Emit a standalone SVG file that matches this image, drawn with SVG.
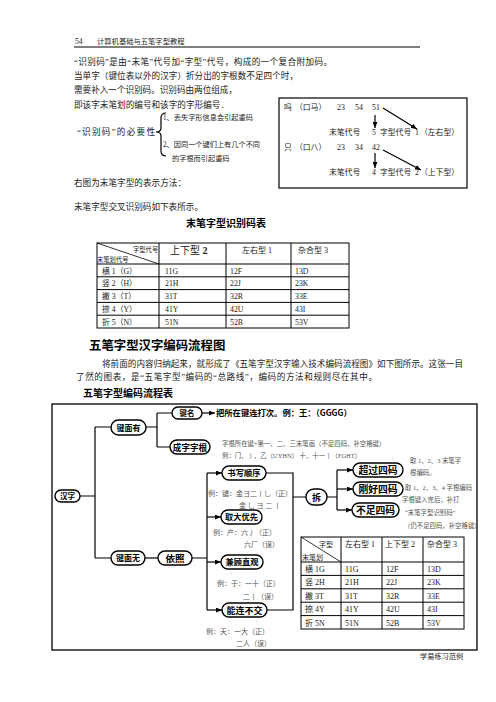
<svg xmlns="http://www.w3.org/2000/svg" width="496" height="702" viewBox="0 0 496 702">
<defs>
<marker id="ah" viewBox="0 0 10 8" refX="10" refY="4" markerWidth="6" markerHeight="5" orient="auto" markerUnits="userSpaceOnUse"><path d="M0,0 L10,4 L0,8 z" fill="#000"/></marker>
<style>
.t{font-family:"Liberation Serif","Noto Sans CJK SC",serif;fill:#222}
.b{font-size:8.6px}
.h{font-family:"Noto Sans CJK SC",sans-serif;font-weight:bold;fill:#000}
.s{font-size:7px;fill:#555}
.xs{font-size:6.4px;fill:#555}
.c{font-size:8px}
.node rect{fill:#fff;stroke:#000;stroke-width:1.4}
.nt{font-family:"Noto Sans CJK SC",sans-serif;font-weight:bold;text-anchor:middle;fill:#000}
.ln{stroke:#000;stroke-width:1.2;fill:none}
.tb{stroke:#000;stroke-width:1;fill:none}
</style>
</defs>
<rect width="496" height="702" fill="#fff"/>

<!-- header -->
<text class="t" x="75" y="44" font-size="7.5">54</text>
<text class="t" x="97" y="44" font-size="7.3">计算机基础与五笔字型教程</text>
<line x1="74" y1="47" x2="420" y2="47" stroke="#000" stroke-width="1"/>

<!-- paragraph -->
<text class="t b" x="74" y="65" textLength="258" lengthAdjust="spacing">“识别码”是由“末笔”代号加“字型”代号，构成的一个复合附加码。</text>
<text class="t b" x="74" y="79" textLength="224" lengthAdjust="spacing">当单字（键位表以外的汉字）折分出的字根数不足四个时，</text>
<text class="t b" x="74" y="93" textLength="163" lengthAdjust="spacing">需要补入一个识别码。识别码由两位组成，</text>
<text class="t b" x="74" y="108" textLength="155" lengthAdjust="spacing">即该字末笔划的编号和该字的字形编号．</text>
<text class="t b" x="77" y="135" textLength="78" lengthAdjust="spacing">“识别码”的必要性</text>
<path class="ln" d="M166,113 Q161,113 161,118 L161,128 Q161,132 156,132 Q161,132 161,136 L161,151 Q161,156 166,156" stroke-width="1"/>
<text class="t" x="163" y="119.5" font-size="7.2">1、丢失字形信息会引起重码</text>
<text class="t" x="163" y="146.5" font-size="7.2">2、因同一个键们上有几个不同</text>
<text class="t" x="172" y="160.5" font-size="7.2">的字根而引起重码</text>
<text class="t b" x="74" y="186" textLength="112" lengthAdjust="spacing">右图为末笔字型的表示方法：</text>
<text class="t b" x="74" y="210" textLength="129" lengthAdjust="spacing">末笔字型交叉识别码如下表所示。</text>

<!-- example box -->
<g id="example-box">
<rect x="279" y="98" width="188" height="90" fill="#fff" stroke="#000" stroke-width="1.2"/>
<g class="t" font-size="7.8">
<text x="284" y="110">吗</text><text x="295" y="110">（口马）</text>
<text x="337" y="110">23</text><text x="355" y="110">54</text><text x="372" y="110">51</text>
<text x="329" y="135">末笔代号</text><text x="372" y="135">5</text><text x="380" y="135">字型代号</text><text x="415" y="135">1</text><text x="420" y="135">（左右型）</text>
<text x="284" y="150">只</text><text x="295" y="150">（口八）</text>
<text x="337" y="150">23</text><text x="355" y="150">34</text><text x="372" y="150">42</text>
<text x="329" y="175">末笔代号</text><text x="372" y="175">4</text><text x="380" y="175">字型代号</text><text x="415" y="175">2</text><text x="420" y="175">（上下型）</text>
</g>
<g class="ln" marker-end="url(#ah)">
<line x1="375" y1="115" x2="375" y2="128"/>
<line x1="383" y1="108" x2="417" y2="129"/>
<line x1="375" y1="153" x2="375" y2="168"/>
<line x1="383" y1="150" x2="421" y2="170"/>
</g>
</g>

<!-- table 1 -->
<text class="h" x="186" y="227" font-size="10">末笔字型识别码表</text>
<g id="table1">
<g class="tb" stroke-width="1.1">
<rect x="97" y="243" width="252" height="85"/>
<line x1="97" y1="264" x2="349" y2="264"/>
<line x1="97" y1="276.8" x2="349" y2="276.8"/>
<line x1="97" y1="289.6" x2="349" y2="289.6"/>
<line x1="97" y1="302.4" x2="349" y2="302.4"/>
<line x1="97" y1="315.2" x2="349" y2="315.2"/>
<line x1="159" y1="243" x2="159" y2="328"/>
<line x1="226" y1="243" x2="226" y2="328"/>
<line x1="291" y1="243" x2="291" y2="328"/>
<line x1="97" y1="243" x2="159" y2="264" stroke-width="0.8"/>
</g>
<g class="t">
<text x="133" y="252" font-size="6.3">字型代号</text>
<text x="97" y="262" font-size="6.3">末笔划代号</text>
<text x="170" y="254" font-size="10">上下型 <tspan font-weight="bold">2</tspan></text>
<text x="242" y="253" font-size="8">左右型 1</text>
<text x="298" y="253" font-size="8">杂合型 3</text>
<g font-size="7.8">
<text x="102" y="273.5">横 1（G）</text><text x="165" y="273.5">11G</text><text x="230" y="273.5">12F</text><text x="295" y="273.5">13D</text>
<text x="102" y="286.3">竖 2（H）</text><text x="165" y="286.3">21H</text><text x="230" y="286.3">22J</text><text x="295" y="286.3">23K</text>
<text x="102" y="299.1">撇 3（T）</text><text x="165" y="299.1">31T</text><text x="230" y="299.1">32R</text><text x="295" y="299.1">33E</text>
<text x="102" y="311.9">捺 4（Y）</text><text x="165" y="311.9">41Y</text><text x="230" y="311.9">42U</text><text x="295" y="311.9">43I</text>
<text x="102" y="324.7">折 5（N）</text><text x="165" y="324.7">51N</text><text x="230" y="324.7">52B</text><text x="295" y="324.7">53V</text>
</g>
</g>
</g>

<!-- section 2 -->
<text class="h" x="89" y="350" font-size="12.4">五笔字型汉字编码流程图</text>
<text class="t b" x="102" y="367" textLength="361" lengthAdjust="spacing">将前面的内容归纳起来，就形成了《五笔字型汉字输入技术编码流程图》如下图所示。这张一目</text>
<text class="t b" x="76" y="380" textLength="301" lengthAdjust="spacing">了然的图表，是“五笔字型”编码的“总路线”，编码的方法和规则尽在其中。</text>
<text class="h" x="83" y="397" font-size="10">五笔字型编码流程表</text>

<!-- flowchart frame -->
<rect x="52" y="404" width="425" height="246" fill="none" stroke="#000" stroke-width="1.3"/>

<!-- connectors -->
<g id="connectors" class="ln">
<path d="M80,496 H95 M95,427 V558 M95,427 H111 M95,558 H111"/>
<path d="M146,427 H157 M157,413 V447 M157,413 H172 M157,447 H171"/>
<path d="M202,413 H215" marker-end="url(#ah)"/>
<path d="M145,558 H158"/>
<path d="M192,558 H207 M207,473 V610"/>
<path d="M207,473 H222" marker-end="url(#ah)"/>
<path d="M207,517 H221" marker-end="url(#ah)"/>
<path d="M207,562 H221" marker-end="url(#ah)"/>
<path d="M207,610 H222" marker-end="url(#ah)"/>
<path d="M266,473 H293 V610 H267 M293,497 H306"/>
<path d="M327,497 H337 M337,470 V510"/>
<path d="M337,470 H353" marker-end="url(#ah)"/>
<path d="M337,489 H353" marker-end="url(#ah)"/>
<path d="M337,510 H352" marker-end="url(#ah)"/>
</g>

<!-- nodes -->
<g id="n-hanzi" class="node"><rect x="55" y="490" width="25" height="12" rx="6"/><text class="nt" x="67.5" y="499" font-size="7.5">汉字</text></g>
<g id="n-jianmianyou" class="node"><rect x="111" y="420" width="35" height="15" rx="7.5"/><text class="nt" x="128.5" y="430.5" font-size="8">键面有</text></g>
<g id="n-jianmianwu" class="node"><rect x="111" y="551" width="34" height="14" rx="7"/><text class="nt" x="128" y="561" font-size="8">键面无</text></g>
<g id="n-yizhao" class="node"><rect x="158" y="551" width="34" height="14" rx="7"/><text class="nt" x="175" y="561.5" font-size="9.5">依照</text></g>
<g id="n-jianming" class="node"><rect x="172" y="407" width="30" height="12" rx="6"/><text class="nt" x="187" y="416" font-size="7.5">键名</text></g>
<g id="n-chengzi" class="node"><rect x="170" y="440" width="40" height="14" rx="7"/><text class="nt" x="190" y="450.8" font-size="8.6">成字字根</text></g>
<g id="n-shuxie" class="node"><rect x="222" y="466" width="44" height="14" rx="7"/><text class="nt" x="244" y="476" font-size="8.2">书写顺序</text></g>
<g id="n-quda" class="node"><rect x="221" y="510" width="41" height="14" rx="7"/><text class="nt" x="241.5" y="520" font-size="8.2">取大优先</text></g>
<g id="n-jiangu" class="node"><rect x="221" y="555" width="42" height="14" rx="7"/><text class="nt" x="242" y="565" font-size="8.2">兼顾直观</text></g>
<g id="n-nenglian" class="node"><rect x="222" y="603" width="45" height="14" rx="7"/><text class="nt" x="244.5" y="613.5" font-size="9">能连不交</text></g>
<g id="n-chai" class="node"><rect x="306" y="489" width="21" height="16" rx="8"/><text class="nt" x="316.5" y="500.5" font-size="9">拆</text></g>
<g id="n-chaoguo" class="node"><rect x="353" y="463" width="50" height="14" rx="7"/><text class="nt" x="378" y="474" font-size="9.8">超过四码</text></g>
<g id="n-ganghao" class="node"><rect x="353" y="482" width="50" height="14" rx="7"/><text class="nt" x="378" y="493" font-size="9.8">刚好四码</text></g>
<g id="n-buzu" class="node"><rect x="352" y="503" width="47" height="14" rx="7"/><text class="nt" x="375.5" y="514" font-size="9.8">不足四码</text></g>

<!-- flowchart texts -->
<text class="h" x="216" y="416" font-size="8.3">把所在键连打次。例：王：（GGGG）</text>
<text class="t xs" x="222" y="445.5">字根所在键+第一、二、三末笔画（不足四码，补空格键）</text>
<text class="t xs" x="222" y="457.5">例：门、丨、乙（UYHN） 十、十一丨（FGHT）</text>
<g class="t s">
<text x="208" y="495.5">例：键：金ヨ二丨乚（正）</text>
<text x="239" y="507.5">金 乚 ヨ 二 丨</text>
<text x="213" y="534.5">例：产：六丿（正）</text>
<text x="244" y="546.5">六厂（误）</text>
<text x="217" y="585.5">例：于：一十（正）</text>
<text x="243" y="598.5">二丨（误）</text>
<text x="206" y="633.5">例：天：一大（正）</text>
<text x="236" y="645.5">二人（误）</text>
</g>
<g class="t xs">
<text x="410" y="463">取 1、2、3 末笔字</text>
<text x="410" y="475">根编码。</text>
<text x="405" y="490">取 1、2、3、4 字根编码</text>
<text x="402" y="502">字根键入完后，补打</text>
<text x="405" y="515">“末笔字型识别码”</text>
<text x="404" y="528">（仍不足四码，补空格键）</text>
</g>

<!-- table 2 -->
<g id="table2">
<g class="tb" stroke-width="1.1">
<rect x="301" y="537" width="163" height="92"/>
<line x1="301" y1="562" x2="464" y2="562"/>
<line x1="301" y1="575.4" x2="464" y2="575.4"/>
<line x1="301" y1="588.8" x2="464" y2="588.8"/>
<line x1="301" y1="602.2" x2="464" y2="602.2"/>
<line x1="301" y1="615.6" x2="464" y2="615.6"/>
<line x1="341" y1="537" x2="341" y2="629"/>
<line x1="382" y1="537" x2="382" y2="629"/>
<line x1="423" y1="537" x2="423" y2="629"/>
<line x1="301" y1="537" x2="341" y2="562" stroke-width="0.8"/>
</g>
<g class="t c">
<text x="319" y="547" font-size="7">字型</text>
<text x="302" y="560" font-size="7">末笔划</text>
<text x="345" y="547">左右型 1</text>
<text x="385" y="547">上下型 2</text>
<text x="427" y="547">杂合型 3</text>
<text x="305" y="572">横 1G</text><text x="345" y="572">11G</text><text x="386" y="572">12F</text><text x="427" y="572">13D</text>
<text x="305" y="585.4">竖 2H</text><text x="345" y="585.4">21H</text><text x="386" y="585.4">22J</text><text x="427" y="585.4">23K</text>
<text x="305" y="598.8">撇 3T</text><text x="345" y="598.8">31T</text><text x="386" y="598.8">32R</text><text x="427" y="598.8">33E</text>
<text x="305" y="612.2">捺 4Y</text><text x="345" y="612.2">41Y</text><text x="386" y="612.2">42U</text><text x="427" y="612.2">43I</text>
<text x="305" y="625.6">折 5N</text><text x="345" y="625.6">51N</text><text x="386" y="625.6">52B</text><text x="427" y="625.6">53V</text>
</g>
</g>

<text class="t" x="420" y="659" font-size="7.2" fill="#666">学易练习范例</text>
</svg>
